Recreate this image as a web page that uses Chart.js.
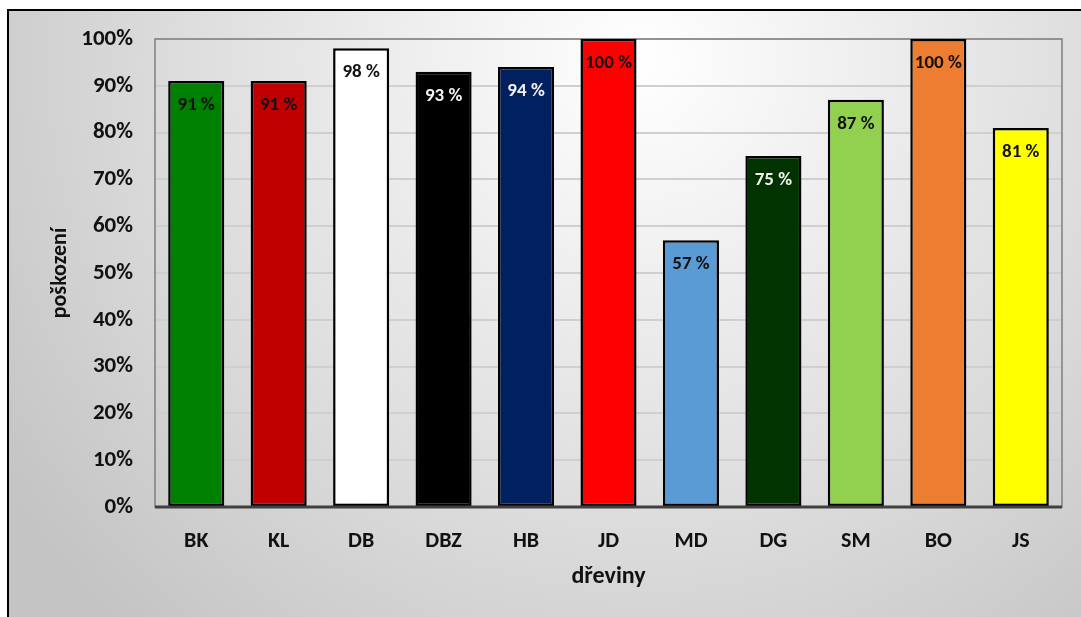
<!DOCTYPE html>
<html>
<head>
<meta charset="utf-8">
<script src="https://cdn.jsdelivr.net/npm/chart.js@4/dist/chart.umd.min.js"></script>
<style>
  html, body { margin: 0; padding: 0; background: #fff; }
  #wrap { position: absolute; left: 0; top: 0; width: 1081px; height: 617px; }
</style>
</head>
<body>
<div id="wrap"><canvas id="chart" width="1081" height="617"></canvas></div>
<script>
// species and damage share
const categories = ['BK', 'KL', 'DB', 'DBZ', 'HB', 'JD', 'MD', 'DG', 'SM', 'BO', 'JS']
const values     = [91, 91, 98, 93, 94, 100, 57, 75, 87, 100, 81]
const barColors  = ['#008000', '#c00000', '#ffffff', '#000000', '#002060', '#ff0000',
                    '#5b9bd5', '#003300', '#92d050', '#ed7d31', '#ffff00']
const labelColors = ['#111', '#111', '#111', '#f2f2f2', '#f2f2f2', '#111',
                     '#111', '#f2f2f2', '#111', '#111', '#111']
const yTicks = [0, 10, 20, 30, 40, 50, 60, 70, 80, 90, 100]

const FONT = 'Carlito, Calibri, Lato, sans-serif'

// gradient frame behind everything
const framePlugin = {
  id: 'frame',
  beforeDraw(chart) {
    const { ctx, width, height } = chart
    ctx.save()
    ctx.fillStyle = '#ffffff'
    ctx.fillRect(0, 0, width, height)
    const g = ctx.createRadialGradient(640, 60, 0, 640, 60, 760)
    g.addColorStop(0, '#ffffff')
    g.addColorStop(0.55, '#e0e0e0')
    g.addColorStop(1, '#c4c4c4')
    ctx.fillStyle = g
    ctx.fillRect(8, 10, width - 8, height - 10)
    ctx.strokeStyle = '#000'
    ctx.lineWidth = 2
    ctx.beginPath()
    ctx.moveTo(8, height)
    ctx.lineTo(8, 10)
    ctx.lineTo(width, 10)
    ctx.stroke()
    ctx.restore()
  },
  beforeDatasetsDraw(chart) {
    const { ctx, chartArea: a } = chart
    ctx.save()
    ctx.strokeStyle = '#7f7f7f'
    ctx.lineWidth = 1.5
    ctx.strokeRect(a.left, a.top, a.right - a.left, a.bottom - a.top)
    ctx.restore()
  },
  afterDatasetsDraw(chart) {
    const { ctx, chartArea: a } = chart
    ctx.save()
    ctx.strokeStyle = '#404040'
    ctx.lineWidth = 3
    ctx.beginPath()
    ctx.moveTo(a.left, a.bottom)
    ctx.lineTo(a.right, a.bottom)
    ctx.stroke()
    ctx.restore()
  }
}

// value labels inside the top of each bar
const valueLabels = {
  id: 'valueLabels',
  afterDatasetsDraw(chart) {
    const { ctx } = chart
    const meta = chart.getDatasetMeta(0)
    ctx.save()
    ctx.font = `bold 19px ${FONT}`
    ctx.textAlign = 'center'
    ctx.textBaseline = 'middle'
    meta.data.forEach((bar, i) => {
      ctx.fillStyle = labelColors[i]
      ctx.fillText(`${values[i]} %`, bar.x, bar.y + 24)
    })
    ctx.restore()
  }
}

new Chart(document.getElementById('chart'), {
  type: 'bar',
  data: {
    labels: categories,
    datasets: [{
      data: values,
      backgroundColor: barColors,
      borderColor: '#000',
      borderWidth: 2.5,
      borderSkipped: false,
      barPercentage: 0.68,
      categoryPercentage: 1,
    }],
  },
  options: {
    responsive: false,
    animation: false,
    devicePixelRatio: 1,
    layout: { padding: { top: 39, right: 19, bottom: 0, left: 0 } },
    plugins: {
      legend: { display: false },
      tooltip: { enabled: false },
    },
    scales: {
      x: {
        grid: { display: false, drawTicks: false },
        border: { display: false },
        ticks: { color: '#111', font: { family: FONT, size: 22, weight: 'bold' }, padding: 21 },
        title: { display: true, text: 'dřeviny', color: '#111',
                 font: { family: FONT, size: 24, weight: 'bold' }, padding: { top: 0, bottom: 26 } },
        afterFit: s => { s.height = 110 },
      },
      y: {
        min: 0,
        max: 100,
        afterBuildTicks: s => { s.ticks = yTicks.map(v => ({ value: v })) },
        grid: { color: '#cfcfcf', lineWidth: 2, drawTicks: false },
        border: { display: false },
        ticks: { color: '#111', font: { family: FONT, size: 23, weight: 'bold' }, padding: 22,
                 callback: v => v + '%' },
        title: { display: true, text: 'poškození', color: '#111',
                 font: { family: FONT, size: 22, weight: 'bold' }, padding: { top: 47, bottom: 0 } },
        afterFit: s => { s.width = 155 },
      },
    },
  },
  plugins: [framePlugin, valueLabels],
})
</script>
</body>
</html>
